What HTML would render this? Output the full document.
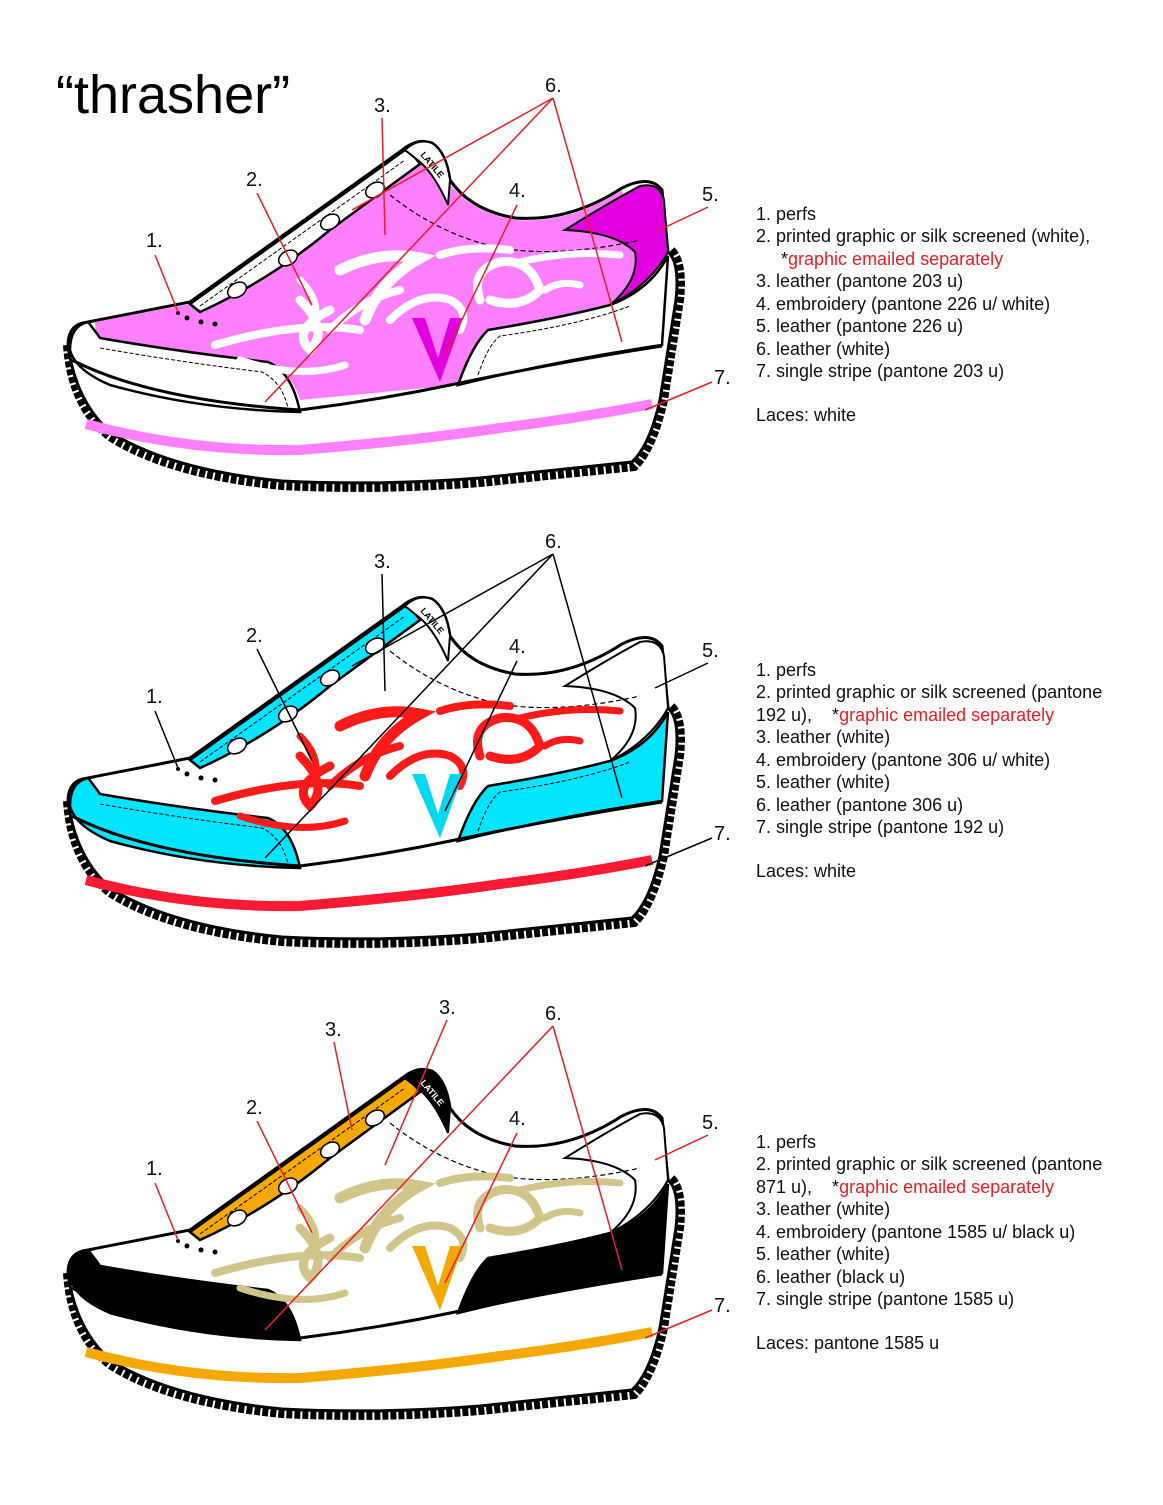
<!DOCTYPE html>
<html><head><meta charset="utf-8"><style>
html,body{margin:0;padding:0;background:#fff}
svg{display:block}
text{font-family:"Liberation Sans",sans-serif}
.t{font-size:18px;fill:#111}
.r{fill:#ee1c25}
.lb{font-size:20px;fill:#111}
</style></head><body>
<svg width="1163" height="1505" viewBox="0 0 1163 1505" xmlns="http://www.w3.org/2000/svg">
<defs>
<g id="shoe">
  <!-- outsole dashed band -->
  <path d="M68,345 Q72,405 110,436 Q170,474 282,485 Q380,490 480,482 L634,466 Q652,448 663,400 L679,300 Q683,262 670,250" fill="none" stroke="#000" stroke-width="10" stroke-dasharray="6 2"/>
  <!-- silhouette -->
  <path d="M88,322 L190,302 L405,148 Q418,138 432,143 Q446,152 450,180 Q470,210 515,218 Q570,222 622,188 Q650,174 662,190 L668,252 Q680,262 676,300 L660,400 Q650,445 632,462 L480,478 Q380,486 282,481 Q170,470 110,432 Q75,400 68,345 Q68,324 88,322 Z" fill="#fff" stroke="#000" stroke-width="3"/>
  <!-- upper -->
  <path d="M95,322 L190,304 L345,212 L412,158 Q432,165 448,182 Q470,212 515,220 Q570,224 622,190 L636,250 Q640,285 610,305 Q560,318 488,330 Q472,350 458,385 L300,400 Q290,370 268,362 Q180,350 96,342 Z" style="fill:var(--up)"/>
  <!-- heel tab -->
  <path d="M565,230 Q610,202 640,186 Q660,182 664,200 L668,252 Q650,285 610,305 Q640,280 635,252 Q615,232 565,230 Z" style="fill:var(--tab)" stroke="#000" stroke-width="2"/>
  <!-- heel counter -->
  <path d="M458,385 Q472,345 488,330 Q560,318 610,305 Q650,290 668,256 L662,345 Q560,360 458,385 Z" style="fill:var(--heel)" stroke="#000" stroke-width="2.5"/>
  <path d="M478,375 Q488,345 500,336 Q580,325 630,306" fill="none" stroke="#000" stroke-width="1" stroke-dasharray="4 2"/>
  <!-- toe cap -->
  <path d="M88,322 Q96,332 100,338 Q180,352 268,362 Q292,372 300,412 Q200,410 110,385 Q75,370 70,350 Q70,326 88,322 Z" style="fill:var(--toe)" stroke="#000" stroke-width="2.5"/>
  <path d="M100,348 Q180,362 262,372 Q282,382 288,408" fill="none" stroke="#000" stroke-width="1" stroke-dasharray="4 2"/>
  <!-- lace panel -->
  <path d="M190,304 L405,150 Q415,156 420,164 L330,230 Q270,280 200,312 Z" style="fill:var(--lace)" stroke="#000" stroke-width="2.5"/>
  <path d="M200,306 L405,160" fill="none" stroke="#000" stroke-width="1" stroke-dasharray="4 2"/>
  <!-- tongue -->
  <path d="M405,150 Q418,138 432,143 Q446,152 450,180 L448,205 Q435,175 420,162 Z" style="fill:var(--tongue)" stroke="#000" stroke-width="2"/>
  <text x="420" y="155" font-size="9" font-weight="bold" transform="rotate(50 420 155)" style="fill:var(--tt)">LATILE</text>
  <!-- collar dashed line -->
  <path d="M390,195 Q440,235 500,248 Q560,258 640,240" fill="none" stroke="#000" stroke-width="1.2" stroke-dasharray="5 3"/>
  <!-- midsole top -->
  <path d="M72,360 Q150,400 300,410 Q380,400 460,383 Q560,362 662,346" fill="none" stroke="#000" stroke-width="3"/>
  <!-- stripe -->
  <path d="M86,424 Q190,452 300,450 Q420,440 500,428 Q580,418 652,404" fill="none" style="stroke:var(--stripe)" stroke-width="10"/>
  <!-- tribal -->
  <g fill="none" style="stroke:var(--trib)" stroke-linecap="round">
    <path d="M215,345 Q300,320 360,330" stroke-width="8"/>
    <path d="M240,360 Q300,380 345,365" stroke-width="7"/>
    <path d="M300,300 Q330,330 310,350 Q290,330 330,310" stroke-width="9"/>
    <path d="M340,270 Q380,250 420,258 Q380,280 365,320" stroke-width="11"/>
    <path d="M390,320 Q420,290 450,300 Q470,310 460,330" stroke-width="8"/>
    <path d="M440,255 Q470,245 510,250" stroke-width="8"/>
    <path d="M480,300 Q470,270 500,262 Q530,258 540,290 Q520,310 490,300" stroke-width="9"/>
    <path d="M520,262 Q570,250 620,255" stroke-width="7"/>
    <path d="M545,290 Q560,280 580,285" stroke-width="7"/>
    <path d="M330,330 Q360,300 400,290" stroke-width="8"/>
    <path d="M300,280 Q320,300 315,320" stroke-width="7"/>
  </g>
  <!-- V -->
  <path d="M412,318 L425,318 L438,358 L450,318 L463,318 L440,382 Z" style="fill:var(--v)"/>
  <!-- laces -->
  <g fill="#fff" stroke="#000" stroke-width="1.5">
    <ellipse cx="237" cy="290" rx="10" ry="7" transform="rotate(-30 237 290)"/>
    <ellipse cx="288" cy="258" rx="10" ry="7" transform="rotate(-30 288 258)"/>
    <ellipse cx="330" cy="222" rx="10" ry="7" transform="rotate(-30 330 222)"/>
    <ellipse cx="375" cy="190" rx="10" ry="7" transform="rotate(-30 375 190)"/>
  </g>
  <!-- perfs -->
  <circle cx="187" cy="318" r="2.5" fill="#000"/><circle cx="201" cy="322" r="2.5" fill="#000"/><circle cx="215" cy="324" r="2.5" fill="#000"/><circle cx="178" cy="313" r="2" fill="#000"/>
</g>
</defs>

<text x="56" y="113" font-size="54" fill="#000">“thrasher”</text>

<!-- SHOE 1 -->
<use href="#shoe" style="--up:#ff80ff;--tab:#e000e0;--heel:#fff;--toe:#fff;--lace:#fff;--tongue:#fff;--tt:#000;--stripe:#ff80ff;--trib:#fff;--v:#e000e0"/>
<g stroke="#ee1c25" stroke-width="1.5" fill="none">
<path d="M155,255 L178,312 M257,193 L312,305 M382,118 L385,235 M553,98 L352,210 M553,98 L265,402 M553,98 L622,342 M517,205 L445,355 M708,207 L655,232 M712,382 L645,410"/>
</g>
<g class="lb"><text x="146" y="247">1.</text><text x="246" y="186">2.</text><text x="374" y="112">3.</text><text x="545" y="92">6.</text><text x="509" y="197">4.</text><text x="702" y="201">5.</text><text x="714" y="384">7.</text></g>
<g class="t">
<text x="756" y="220">1. perfs</text>
<text x="756" y="242">2. printed graphic or silk screened (white),</text>
<text x="781" y="265"><tspan>*</tspan><tspan class="r">graphic emailed separately</tspan></text>
<text x="756" y="287">3. leather (pantone 203 u)</text>
<text x="756" y="310">4. embroidery (pantone 226 u/ white)</text>
<text x="756" y="332">5. leather (pantone 226 u)</text>
<text x="756" y="355">6. leather (white)</text>
<text x="756" y="377">7. single stripe (pantone 203 u)</text>
<text x="756" y="421">Laces: white</text>
</g>

<!-- SHOE 2 -->
<g transform="translate(0,456)">
<use href="#shoe" style="--up:#fff;--tab:#fff;--heel:#00e5ff;--toe:#00e5ff;--lace:#00e5ff;--tongue:#fff;--tt:#000;--stripe:#ff1a33;--trib:#ff1a1a;--v:#00d8f0"/>
<g stroke="#000" stroke-width="1.5" fill="none">
<path d="M155,255 L178,312 M257,193 L312,305 M382,118 L385,235 M553,98 L352,210 M553,98 L265,402 M553,98 L622,342 M517,205 L445,355 M708,207 L655,232 M712,382 L645,410"/>
</g>
<g class="lb"><text x="146" y="247">1.</text><text x="246" y="186">2.</text><text x="374" y="112">3.</text><text x="545" y="92">6.</text><text x="509" y="197">4.</text><text x="702" y="201">5.</text><text x="714" y="384">7.</text></g>
<g class="t">
<text x="756" y="220">1. perfs</text>
<text x="756" y="242">2. printed graphic or silk screened (pantone</text>
<text x="756" y="265">192 u),&#160;&#160;&#160; *<tspan class="r">graphic emailed separately</tspan></text>
<text x="756" y="287">3. leather (white)</text>
<text x="756" y="310">4. embroidery (pantone 306 u/ white)</text>
<text x="756" y="332">5. leather (white)</text>
<text x="756" y="355">6. leather (pantone 306 u)</text>
<text x="756" y="377">7. single stripe (pantone 192 u)</text>
<text x="756" y="421">Laces: white</text>
</g>
</g>

<!-- SHOE 3 -->
<g transform="translate(0,928)">
<use href="#shoe" style="--up:#fff;--tab:#fff;--heel:#000;--toe:#000;--lace:#f5a800;--tongue:#000;--tt:#fff;--stripe:#f5a800;--trib:#d2c58a;--v:#f5a800"/>
<g stroke="#ee1c25" stroke-width="1.5" fill="none">
<path d="M155,255 L178,312 M257,193 L312,305 M334,114 L352,202 M447,92 L385,237 M553,98 L265,402 M553,98 L622,342 M517,205 L445,355 M708,207 L655,232 M712,382 L645,410"/>
</g>
<g class="lb"><text x="146" y="247">1.</text><text x="246" y="186">2.</text><text x="325" y="108">3.</text><text x="439" y="86">3.</text><text x="545" y="92">6.</text><text x="509" y="197">4.</text><text x="702" y="201">5.</text><text x="714" y="384">7.</text></g>
<g class="t">
<text x="756" y="220">1. perfs</text>
<text x="756" y="242">2. printed graphic or silk screened (pantone</text>
<text x="756" y="265">871 u),&#160;&#160;&#160; *<tspan class="r">graphic emailed separately</tspan></text>
<text x="756" y="287">3. leather (white)</text>
<text x="756" y="310">4. embroidery (pantone 1585 u/ black u)</text>
<text x="756" y="332">5. leather (white)</text>
<text x="756" y="355">6. leather (black u)</text>
<text x="756" y="377">7. single stripe (pantone 1585 u)</text>
<text x="756" y="421">Laces: pantone 1585 u</text>
</g>
</g>
</svg>
</body></html>
